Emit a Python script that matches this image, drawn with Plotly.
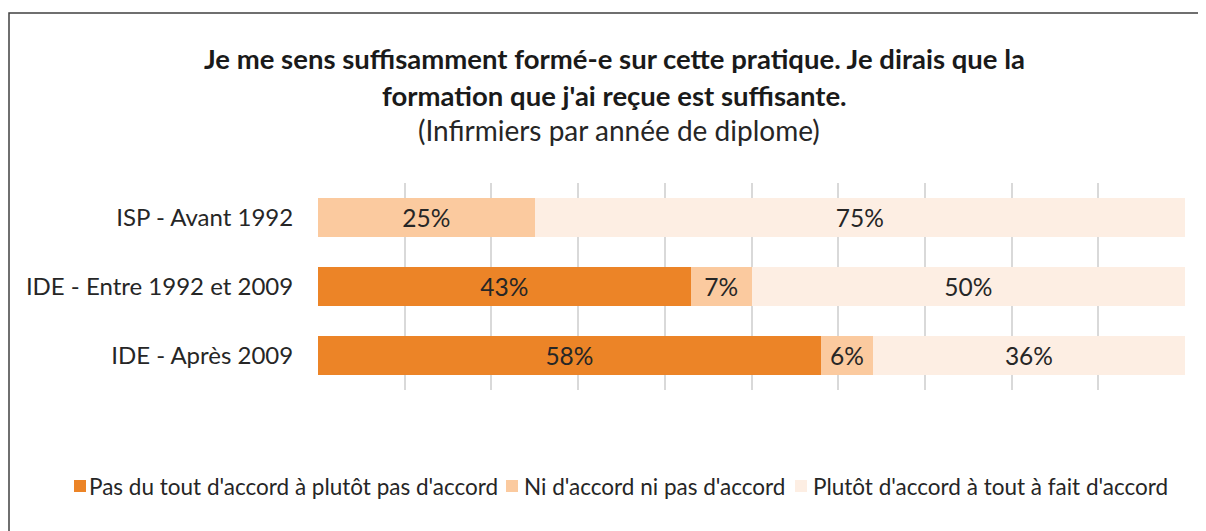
import plotly.graph_objects as go

categories = ["ISP - Avant 1992", "IDE - Entre 1992 et 2009", "IDE - Après 2009"]
series_names = [
    "Pas du tout d'accord à plutôt pas d'accord",
    "Ni d'accord ni pas d'accord",
    "Plutôt d'accord à tout à fait d'accord",
]
pas_accord = [0, 43, 58]
neutre = [25, 7, 6]
accord = [75, 50, 36]
colors = ["#EC8427", "#FBCA9F", "#FDEEE3"]

# page body has an 8px margin: work in reference pixels, shift by OFF
OFF = 8
W, H = 1206 - OFF, 531 - OFF
L, R, T, B = 318 - OFF, 1185 - OFF, 183 - OFF, 390 - OFF
FONT = "Lato"
TXT = "#262626"

fig = go.Figure()
for name, vals, col in zip(series_names, [pas_accord, neutre, accord], colors):
    fig.add_trace(go.Bar(
        y=categories, x=vals, name=name, orientation="h",
        marker=dict(color=col, line=dict(width=0)),
        text=[f"{v}%" if v else "" for v in vals],
        textposition="inside", insidetextanchor="middle",
        textfont=dict(family=FONT, size=24.5, color=TXT),
        textangle=0, constraintext="none",
        hoverinfo="skip", showlegend=False,
    ))

def px_x(rx):
    return (rx - OFF - L) / (R - L)

def px_y(ry):
    return (B - (ry - OFF)) / (B - T)

annotations = [
    dict(xref="paper", yref="paper", x=px_x(614), y=px_y(58),
         text="<b>Je me sens suffisamment formé-e sur cette pratique. Je dirais que la</b>",
         showarrow=False, xanchor="center", yanchor="middle",
         font=dict(family=FONT, size=27.5, color="#1a1a1a")),
    dict(xref="paper", yref="paper", x=px_x(614), y=px_y(96),
         text="<b>formation que j'ai reçue est suffisante.</b>",
         showarrow=False, xanchor="center", yanchor="middle",
         font=dict(family=FONT, size=27.5, color="#1a1a1a")),
    dict(xref="paper", yref="paper", x=px_x(619), y=px_y(130),
         text="(Infirmiers par année de diplome)",
         showarrow=False, xanchor="center", yanchor="middle",
         font=dict(family=FONT, size=28, color=TXT)),
]
shapes = [
    dict(type="rect", xref="paper", yref="paper",
         x0=px_x(OFF + 1), x1=px_x(1240), y0=px_y(13), y1=px_y(570),
         line=dict(color="#404040", width=1.5), fillcolor="rgba(0,0,0,0)",
         layer="below"),
]

# manual legend (reference pixel positions)
legend_sq = [74, 506, 795]
legend_tx = [87, 522, 811]
LEG_Y = 486
for name, col, sx, tx in zip(series_names, colors, legend_sq, legend_tx):
    shapes.append(dict(type="rect", xref="paper", yref="paper",
                       x0=px_x(sx), x1=px_x(sx + 12), y0=px_y(LEG_Y - 6), y1=px_y(LEG_Y + 6),
                       line=dict(width=0), fillcolor=col))
    annotations.append(dict(xref="paper", yref="paper", x=px_x(tx), y=px_y(LEG_Y),
                            text=name, showarrow=False, xanchor="left", yanchor="middle",
                            font=dict(family=FONT, size=22.5, color=TXT)))

fig.update_layout(
    width=W, height=H,
    barmode="stack", bargap=0.435,
    margin=dict(l=L, r=W - R, t=T, b=H - B, autoexpand=False),
    paper_bgcolor="white", plot_bgcolor="white",
    font=dict(family=FONT, size=20, color=TXT),
    showlegend=False,
    xaxis=dict(
        range=[0, 100], showgrid=True, gridcolor="#D9D9D9", gridwidth=2,
        dtick=10, showticklabels=False, zeroline=False, showline=False,
        fixedrange=True,
    ),
    yaxis=dict(
        autorange="reversed", showgrid=False, showline=False, zeroline=False,
        ticks="outside", ticklen=19, tickcolor="rgba(0,0,0,0)",
        tickfont=dict(family=FONT, size=24, color=TXT),
    ),
    annotations=annotations,
    shapes=shapes,
)

fig.write_html("out.html")
